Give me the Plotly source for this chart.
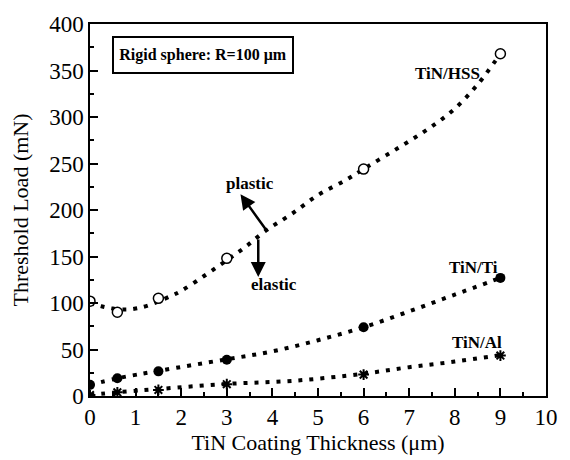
import plotly.graph_objects as go

# Measured threshold loads (mN) versus TiN coating thickness (um)
thickness = [0, 0.6, 1.5, 3, 6, 9]
hss_load = [102, 90, 105, 148, 244, 368]
ti_load = [12, 19, 26.5, 39, 74, 127]
al_load = [1, 4, 6.5, 12.7, 23, 43.5]

# Fitted trend curves
hss_fit_x = [0, 0.25, 0.5, 0.8, 1.0, 1.25, 1.75, 2.0, 2.5, 3.0, 3.4, 3.86, 4.4, 5.0, 5.6, 6.0, 6.5, 7.0, 7.5, 8.0, 8.5, 9.0]
hss_fit_y = [100, 96.5, 94, 93, 94, 97, 107, 113, 129, 146, 160, 178, 195, 216, 232, 244, 259, 274, 290, 309, 335, 368]
ti_fit_x = [0, 0.6, 1.5, 3, 4, 5, 6, 7, 8, 9]
ti_fit_y = [12, 19, 27, 39.5, 48, 60, 74, 91, 109, 127]
al_fit_x = [0, 0.6, 1.5, 3, 4.5, 6, 7, 8, 9]
al_fit_y = [1, 4, 7.5, 13, 16.5, 24, 31, 37, 44]

x_ticks = list(range(0, 11))
y_ticks = list(range(0, 401, 50))

FONT = "Liberation Serif"
DOTS = "4px,7px"

fig = go.Figure()

for fx, fy in [(hss_fit_x, hss_fit_y), (ti_fit_x, ti_fit_y), (al_fit_x, al_fit_y)]:
    fig.add_trace(go.Scatter(
        x=fx, y=fy, mode="lines", line_shape="spline",
        line=dict(color="black", width=4, dash=DOTS),
        showlegend=False, hoverinfo="skip"))

fig.add_trace(go.Scatter(
    x=thickness, y=hss_load, mode="markers", name="TiN/HSS",
    marker=dict(symbol="circle", size=10, color="white",
                line=dict(color="black", width=1.5)), showlegend=False))
fig.add_trace(go.Scatter(
    x=thickness, y=ti_load, mode="markers", name="TiN/Ti",
    marker=dict(symbol="circle", size=10, color="black"), showlegend=False))
fig.add_trace(go.Scatter(
    x=thickness, y=al_load, mode="markers", name="TiN/Al",
    marker=dict(symbol="asterisk-open", size=9, color="black",
                line=dict(color="black", width=2)), showlegend=False))

annotations = [
    dict(x=2.47, y=367, text="<b>Rigid sphere: R=100 μm</b>", showarrow=False,
         font=dict(family=FONT, size=16, color="black"),
         bordercolor="black", borderwidth=2, borderpad=3, width=172, height=28,
         bgcolor="white"),
    dict(x=7.85, y=347, text="<b>TiN/HSS</b>", showarrow=False,
         font=dict(family=FONT, size=17, color="black")),
    dict(x=8.42, y=138, text="<b>TiN/Ti</b>", showarrow=False,
         font=dict(family=FONT, size=17, color="black")),
    dict(x=8.48, y=58, text="<b>TiN/Al</b>", showarrow=False,
         font=dict(family=FONT, size=17, color="black")),
    dict(x=3.5, y=229, text="<b>plastic</b>", showarrow=False,
         font=dict(family=FONT, size=17, color="black")),
    dict(x=4.03, y=120, text="<b>elastic</b>", showarrow=False,
         font=dict(family=FONT, size=17, color="black")),
    # direction arrows
    dict(x=3.3, y=217, ax=3.9, ay=176, xref="x", yref="y", axref="x", ayref="y",
         text="", showarrow=True, arrowhead=2, arrowsize=1.2, arrowwidth=2.5,
         arrowcolor="black"),
    dict(x=3.69, y=128, ax=3.69, ay=170, xref="x", yref="y", axref="x", ayref="y",
         text="", showarrow=True, arrowhead=2, arrowsize=1.2, arrowwidth=2.5,
         arrowcolor="black"),
]

axis_common = dict(
    showgrid=False, zeroline=False, showline=True, linecolor="black", linewidth=1.5,
    mirror=True, ticks="inside", tickcolor="black", tickwidth=1.5, ticklen=8,
    tickfont=dict(family=FONT, size=23, color="black"),
)

fig.update_layout(
    width=570, height=460,
    margin=dict(l=90, r=14, t=21, b=62),
    paper_bgcolor="white", plot_bgcolor="white",
    font=dict(family=FONT, color="black"),
    annotations=annotations,
    xaxis=dict(range=[0, 10], tickvals=x_ticks,
               minor=dict(dtick=0.5, ticks="inside", ticklen=4, tickcolor="black", tickwidth=1.5),
               title=dict(text="TiN Coating Thickness (μm)", standoff=2,
                          font=dict(family=FONT, size=22, color="black")),
               **axis_common),
    yaxis=dict(range=[0, 400], tickvals=y_ticks,
               minor=dict(dtick=25, ticks="inside", ticklen=4, tickcolor="black", tickwidth=1.5),
               title=dict(text="Threshold Load (mN)", standoff=14,
                          font=dict(family=FONT, size=22, color="black")),
               **axis_common),
)

fig.write_html("out.html")
